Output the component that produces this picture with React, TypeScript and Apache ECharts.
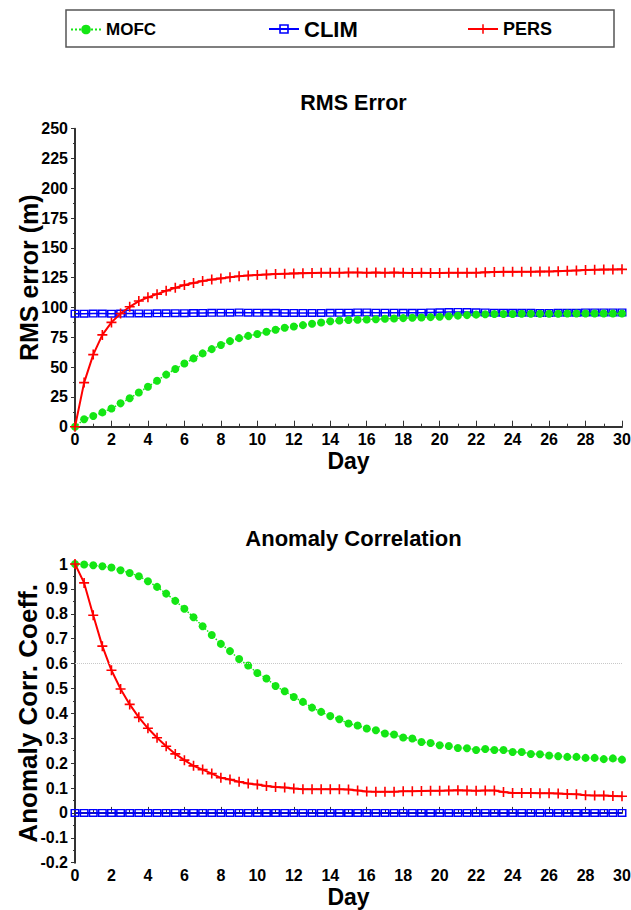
import React, { useEffect, useRef } from "react";
import * as echarts from "echarts";

const days = [
  0, 0.5, 1, 1.5, 2, 2.5, 3, 3.5, 4, 4.5, 5, 5.5, 6, 6.5, 7, 7.5, 8, 8.5, 9, 9.5,
  10, 10.5, 11, 11.5, 12, 12.5, 13, 13.5, 14, 14.5, 15, 15.5, 16, 16.5, 17, 17.5,
  18, 18.5, 19, 19.5, 20, 20.5, 21, 21.5, 22, 22.5, 23, 23.5, 24, 24.5, 25, 25.5,
  26, 26.5, 27, 27.5, 28, 28.5, 29, 29.5, 30,
];

const rmsMOFC = [
  0, 6.2, 9, 12, 15.3, 19.6, 23.8, 28.7, 33.5, 38.6, 43.7, 48.4, 53, 57.3, 61.5, 65.1,
  68.5, 71.8, 74.3, 76.2, 77.8, 79.6, 81.3, 83, 84.1, 85.2, 86.3, 87.4, 88.4, 89.1,
  89.5, 89.7, 90, 90.2, 90.5, 90.8, 91.1, 91.4, 91.6, 91.9, 92.3, 92.7, 93.2, 93.6,
  94.0, 94.4, 94.5, 94.6, 94.6, 94.7, 94.7, 94.8, 94.8, 94.8, 94.9, 94.9, 94.9, 95,
  95, 95, 95,
];

const rmsCLIM = [
  94.8, 94.8, 94.9, 94.9, 94.8, 94.9, 94.9, 95.0, 95.0, 95.1, 95.1, 95.2, 95.2, 95.3,
  95.4, 95.5, 95.6, 95.7, 95.8, 95.7, 95.6, 95.5, 95.5, 95.4, 95.4, 95.4, 95.4, 95.4,
  95.5, 95.6, 95.7, 95.8, 95.8, 95.7, 95.6, 95.6, 95.5, 95.5, 95.6, 95.8, 96.0, 96.2,
  96.3, 96.2, 96.0, 95.8, 95.7, 95.6, 95.5, 95.5, 95.5, 95.4, 95.4, 95.5, 95.6, 95.7,
  95.8, 95.8, 95.9, 95.9, 95.9,
];

const rmsPERS = [
  0, 37, 60.5, 77, 87.5, 95, 100.6, 105.4, 108.5, 111.2, 114, 116.5, 118.8, 120.5,
  122.2, 123.4, 124.4, 125.4, 126.2, 126.8, 127.3, 127.7, 128, 128.3, 128.6, 128.8,
  129, 129.1, 129.2, 129.2, 129.3, 129.3, 129.2, 129.3, 129.2, 129.3, 129.2, 129.0,
  129.1, 129.0, 129.0, 129.1, 129.1, 129.1, 129.2, 129.5, 129.7, 129.9, 129.9, 130,
  130, 130.1, 130.2, 130.5, 130.8, 131.1, 131.4, 131.7, 131.8, 131.9, 132,
];

const accMOFC = [
  1.0, 0.998, 0.995, 0.991, 0.986, 0.975, 0.964, 0.951, 0.931, 0.908, 0.881, 0.852,
  0.82, 0.786, 0.75, 0.715, 0.679, 0.65, 0.618, 0.592, 0.562, 0.54, 0.51, 0.489, 0.466,
  0.446, 0.423, 0.406, 0.389, 0.376, 0.359, 0.351, 0.339, 0.332, 0.319, 0.315, 0.303,
  0.299, 0.285, 0.281, 0.272, 0.269, 0.261, 0.26, 0.253, 0.257, 0.253, 0.253, 0.245,
  0.245, 0.237, 0.236, 0.231, 0.228, 0.225, 0.225, 0.221, 0.221, 0.216, 0.219, 0.214,
];

const accCLIM = [
  0, 0, 0, 0, 0, 0, 0, 0, 0, 0, 0, 0, 0, 0, 0, 0, 0, 0, 0, 0, 0, 0, 0, 0, 0, 0, 0, 0,
  0, 0, 0, 0, 0, 0, 0, 0, 0, 0, 0, 0, 0, 0, 0, 0, 0, 0, 0, 0, 0, 0, 0, 0, 0, 0, 0, 0,
  0, 0, 0, 0, 0,
];

const accPERS = [
  1.0, 0.924, 0.794, 0.67, 0.573, 0.498, 0.436, 0.384, 0.34, 0.302, 0.268, 0.237,
  0.212, 0.189, 0.174, 0.158, 0.141, 0.134, 0.125, 0.118, 0.114, 0.108, 0.104, 0.102,
  0.098, 0.095, 0.095, 0.095, 0.095, 0.095, 0.094, 0.09, 0.086, 0.085, 0.085, 0.085,
  0.087, 0.087, 0.088, 0.089, 0.089, 0.09, 0.091, 0.09, 0.089, 0.09, 0.09, 0.084,
  0.08, 0.08, 0.08, 0.079, 0.079, 0.078, 0.076, 0.075, 0.071, 0.07, 0.07, 0.068, 0.067,
];

const seriesNames = ["MOFC", "CLIM", "PERS"];
const titles = ["RMS Error", "Anomaly Correlation"];
const yNames = ["RMS error (m)", "Anomaly Corr. Coeff."];
const xName = "Day";

const FONT = "'Liberation Sans', Arial, Helvetica, sans-serif";
const GREEN = "#14e614";
const BLUE = "#0000ff";
const RED = "#ff0000";
const PLUS = "path://M4.2,0H5.8V4.2H10V5.8H5.8V10H4.2V5.8H0V4.2H4.2Z";
const HOLLOW = "path://M0,0H10V10H0Z M1.7,1.7V8.3H8.3V1.7Z";

function pairs(vals: number[]) {
  return days.map((d, i) => [d, vals[i]]);
}

export default function App() {
  const ref = useRef<HTMLDivElement>(null);
  useEffect(() => {
    document.body.style.margin = "0";
    if (!ref.current) return;
    const chart = echarts.init(ref.current, undefined, { renderer: "svg" });

    const xAxisBase = (gridIndex: number) => ({
      type: "value",
      gridIndex,
      min: 0,
      max: 30,
      interval: 2,
      name: xName,
      nameLocation: "middle",
      nameGap: 23,
      nameMoveOverlap: false,
      nameTextStyle: { fontSize: 23, fontWeight: "bold", color: "#000", fontFamily: FONT, verticalAlign: "top" },
      axisLine: { show: true, lineStyle: { color: "#333", width: 2 } },
      axisTick: { show: true, inside: true, length: 6, lineStyle: { color: "#333", width: 1 } },
      minorTick: { show: true, splitNumber: 2, length: 3, lineStyle: { color: "#333", width: 1 } },
      axisLabel: { fontSize: 16, fontWeight: "bold", color: "#000", fontFamily: FONT, margin: 5 },
      splitLine: { show: false },
    });

    const yAxisBase = (gridIndex: number, min: number, max: number, interval: number, name: string, fs: number) => ({
      type: "value",
      gridIndex,
      min,
      max,
      interval,
      name,
      nameLocation: "middle",
      nameGap: 34,
      nameMoveOverlap: false,
      nameTextStyle: { fontSize: fs, fontWeight: "bold", color: "#000", fontFamily: FONT },
      axisLine: { show: true, onZero: false, lineStyle: { color: "#333", width: 2 } },
      axisTick: { show: true, inside: false, length: 4, lineStyle: { color: "#333", width: 1 } },
      minorTick: { show: true, splitNumber: 2, length: 2, lineStyle: { color: "#333", width: 1 } },
      axisLabel: { fontSize: 16, fontWeight: "bold", color: "#000", fontFamily: FONT, margin: 7 },
      splitLine: { show: false },
    });

    const mk = (name: string, idx: number, vals: number[], extra: any = {}) => {
      const common: any = {
        name,
        type: "line",
        xAxisIndex: idx,
        yAxisIndex: idx,
        data: pairs(vals),
        silent: true,
      };
      if (name === "MOFC") {
        Object.assign(common, {
          color: GREEN,
          symbol: "circle",
          symbolSize: 8,
          lineStyle: { color: GREEN, width: 1.5, type: "dotted" },
          itemStyle: { color: GREEN },
          z: 3,
        });
      } else if (name === "CLIM") {
        Object.assign(common, {
          color: BLUE,
          symbol: HOLLOW,
          symbolSize: [9, 8],
          lineStyle: { color: BLUE, width: 1.5 },
          itemStyle: { color: BLUE },
          z: 2,
        });
      } else {
        Object.assign(common, {
          color: RED,
          symbol: PLUS,
          symbolSize: 10,
          smooth: false,
          lineStyle: { color: RED, width: 2 },
          itemStyle: { color: RED },
          z: 4,
        });
      }
      return Object.assign(common, extra);
    };

    const legendCommon = {
      orient: "horizontal",
      itemWidth: 30,
      itemHeight: 12,
      padding: 0,
      selectedMode: false,
    };

    const option: any = {
      animation: false,
      backgroundColor: "#fff",
      title: [
        {
          text: titles[0],
          left: 348.5,
          top: 87,
          textAlign: "center",
          textStyle: { fontSize: 21.5, fontWeight: "bold", color: "#000", fontFamily: FONT },
        },
        {
          text: titles[1],
          left: 348.5,
          top: 522,
          textAlign: "center",
          textStyle: { fontSize: 22, fontWeight: "bold", color: "#000", fontFamily: FONT },
        },
      ],
      graphic: [
        {
          type: "rect",
          z: 0,
          shape: { x: 66, y: 10, width: 548, height: 37 },
          style: { fill: "#fff", stroke: "#555", lineWidth: 1.5 },
        },
      ],
      legend: [
        {
          ...legendCommon,
          data: [seriesNames[0]],
          left: 70,
          top: 21,
          textStyle: { fontSize: 17, fontWeight: "bold", color: "#000", fontFamily: FONT },
        },
        {
          ...legendCommon,
          data: [seriesNames[1]],
          left: 268,
          top: 18,
          textStyle: { fontSize: 22, fontWeight: "bold", color: "#000", fontFamily: FONT },
        },
        {
          ...legendCommon,
          data: [seriesNames[2]],
          left: 467,
          top: 20,
          textStyle: { fontSize: 18, fontWeight: "bold", color: "#000", fontFamily: FONT },
        },
      ],
      grid: [
        { left: 75, top: 128.7, width: 547, height: 298, outerBoundsMode: "none", containLabel: false },
        { left: 75, top: 564, width: 547, height: 298.7, outerBoundsMode: "none", containLabel: false },
      ],
      xAxis: [xAxisBase(0), xAxisBase(1)],
      yAxis: [
        yAxisBase(0, 0, 250, 25, yNames[0], 25),
        yAxisBase(1, -0.2, 1, 0.1, yNames[1], 26),
      ],
      series: [
        mk("CLIM", 0, rmsCLIM),
        mk("MOFC", 0, rmsMOFC),
        mk("PERS", 0, rmsPERS),
        mk("CLIM", 1, accCLIM, {
          markLine: {
            silent: true,
            symbol: "none",
            label: { show: false },
            lineStyle: { color: "#c8c8c8", type: "dotted", width: 1 },
            data: [{ yAxis: 0.6 }],
          },
        }),
        mk("MOFC", 1, accMOFC),
        mk("PERS", 1, accPERS),
      ],
    };
    chart.setOption(option);
    return () => chart.dispose();
  }, []);

  return (
    <div
      ref={ref}
      style={{ position: "absolute", left: 0, top: 0, width: 631, height: 910 }}
    />
  );
}
